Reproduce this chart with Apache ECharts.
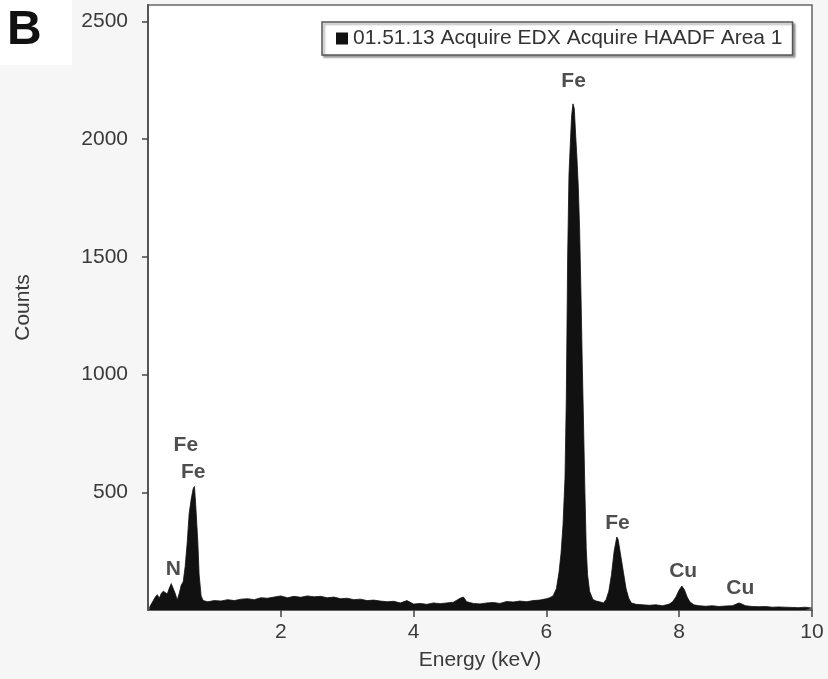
<!DOCTYPE html>
<html>
<head>
<meta charset="utf-8">
<script src="https://cdn.jsdelivr.net/npm/echarts@6/dist/echarts.min.js"></script>
<style>
html,body{margin:0;padding:0;background:#f6f6f6;}
#chart{width:828px;height:679px;}
</style>
</head>
<body>
<div id="chart"></div>
<script>
// Spectrum data (keV, counts)
var energies = [
  0.02,0.05,0.08,0.11,0.14,0.17,0.20,0.23,0.26,0.29,0.32,0.35,0.38,0.41,0.44,0.47,
  0.50,0.53,0.56,0.59,0.62,0.65,0.68,0.70,0.72,0.75,0.77,0.80,0.83,0.86,0.90,
  1.0,1.1,1.2,1.3,1.4,1.5,1.6,1.7,1.8,1.9,2.0,2.1,2.2,2.3,2.4,2.5,2.6,2.7,2.8,2.9,
  3.0,3.1,3.2,3.3,3.4,3.5,3.6,3.7,3.8,3.9,4.0,4.1,4.2,4.3,4.4,4.5,4.6,4.7,4.75,4.8,4.9,
  5.0,5.1,5.2,5.3,5.4,5.5,5.6,5.7,5.8,5.9,6.0,6.05,6.10,6.15,6.19,
  6.22,6.25,6.28,6.30,6.32,6.34,6.36,6.38,6.40,6.42,6.44,6.46,6.48,6.50,6.52,6.54,6.56,6.58,6.60,6.62,6.65,6.70,
  6.75,6.80,6.86,6.90,6.94,6.98,7.02,7.06,7.08,7.12,7.16,7.20,7.24,7.28,7.35,
  7.45,7.55,7.65,7.75,7.85,7.90,7.95,8.00,8.04,8.08,8.12,8.16,8.22,8.30,
  8.40,8.50,8.60,8.70,8.80,8.86,8.90,8.94,9.00,9.10,9.20,9.30,9.40,9.50,9.60,9.70,9.80,9.90,10.0
];
var counts = [
  10,25,40,55,65,50,70,80,88,68,92,112,118,70,42,70,
  105,120,185,285,410,470,515,525,440,290,150,60,40,38,35,
  40,38,44,40,46,48,44,52,50,55,60,52,58,54,60,56,58,52,55,48,
  50,44,46,40,42,38,35,37,30,40,25,28,24,30,27,30,33,50,55,35,28,
  26,30,32,28,36,34,38,35,40,42,48,52,60,90,160,
  240,360,560,900,1500,1850,1980,2100,2150,2130,2020,1920,1800,1620,1350,1050,780,500,260,150,80,45,
  38,35,30,45,80,150,250,310,300,230,160,90,50,30,24,
  22,20,22,18,25,35,55,85,102,85,55,35,22,18,
  16,18,15,17,18,25,30,26,18,15,14,15,12,13,12,11,10,12,8
];
// Peak annotations
var peakNames = ['Fe','Fe','N','Fe','Fe','Cu','Cu'];
var peakEnergy = [0.57,0.68,0.38,6.41,7.07,8.06,8.92];
var peakCounts = [699,585,174,2246,369,165,93];
// Axis ticks
var xTicks = [2,4,6,8,10];
var yTicks = [500,1000,1500,2000,2500];
var seriesName = '01.51.13 Acquire EDX Acquire HAADF Area 1';

var spectrum = energies.map(function(e,i){return [e,counts[i]];});
var labelData = peakNames.map(function(n,i){return {name:n,value:[peakEnergy[i],peakCounts[i]]};});

var chart = echarts.init(document.getElementById('chart'));
var font = 'Liberation Sans, Arial, sans-serif';
chart.setOption({
  backgroundColor:'#f6f6f6',
  animation:false,
  graphic:[
    {type:'rect',left:0,top:0,shape:{width:72,height:65},style:{fill:'#ffffff'},z:-1},
    {type:'text',left:7,top:7,style:{text:'B',font:'bold 48px '+font,fill:'#111'}}
  ],
  grid:{left:148,right:16,top:5,bottom:69,show:true,backgroundColor:'#ffffff',borderColor:'#666',borderWidth:1.5},
  legend:{
    left:322,top:22,padding:[6,10,6,14],
    borderColor:'#555',borderWidth:1.5,backgroundColor:'#ffffff',
    shadowColor:'rgba(0,0,0,0.35)',shadowBlur:2,shadowOffsetX:2,shadowOffsetY:2,
    itemWidth:12,itemHeight:12,icon:'rect',
    textStyle:{fontSize:21,color:'#333',fontFamily:font},
    data:[{name:seriesName,itemStyle:{color:'#111'}}]
  },
  xAxis:{
    type:'value',min:0,max:10,
    name:'Energy (keV)',nameLocation:'middle',nameGap:40,
    nameTextStyle:{fontSize:21,color:'#3a3a3a',fontFamily:font},
    axisLine:{show:true,lineStyle:{color:'#555',width:1.5}},
    axisTick:{show:true,length:7,customValues:xTicks,lineStyle:{color:'#444',width:1.5}},
    axisLabel:{customValues:xTicks,fontSize:21,color:'#3a3a3a',margin:12,fontFamily:font,
      formatter:function(v){return String(v);}},
    splitLine:{show:false}
  },
  yAxis:{
    type:'value',min:0,max:2570,
    name:'Counts',nameLocation:'middle',nameGap:114,nameRotate:90,
    nameTextStyle:{fontSize:21,color:'#3a3a3a',fontFamily:font},
    axisLine:{show:true,lineStyle:{color:'#555',width:2}},
    axisTick:{show:true,length:6,customValues:yTicks,lineStyle:{color:'#444',width:1.5}},
    axisLabel:{customValues:yTicks,fontSize:21,color:'#3a3a3a',margin:20,fontFamily:font,
      formatter:function(v){return String(v);}},
    splitLine:{show:false}
  },
  series:[
    {
      name:seriesName,type:'line',data:spectrum,symbol:'none',
      lineStyle:{color:'#111',width:0.8},
      areaStyle:{color:'#111',opacity:1},
      itemStyle:{color:'#111'}
    },
    {
      type:'scatter',data:labelData,symbolSize:0,silent:true,
      label:{show:true,position:'inside',formatter:'{b}',fontSize:21,fontWeight:'bold',color:'#222',fontFamily:font}
    }
  ]
});
</script>
</body>
</html>
